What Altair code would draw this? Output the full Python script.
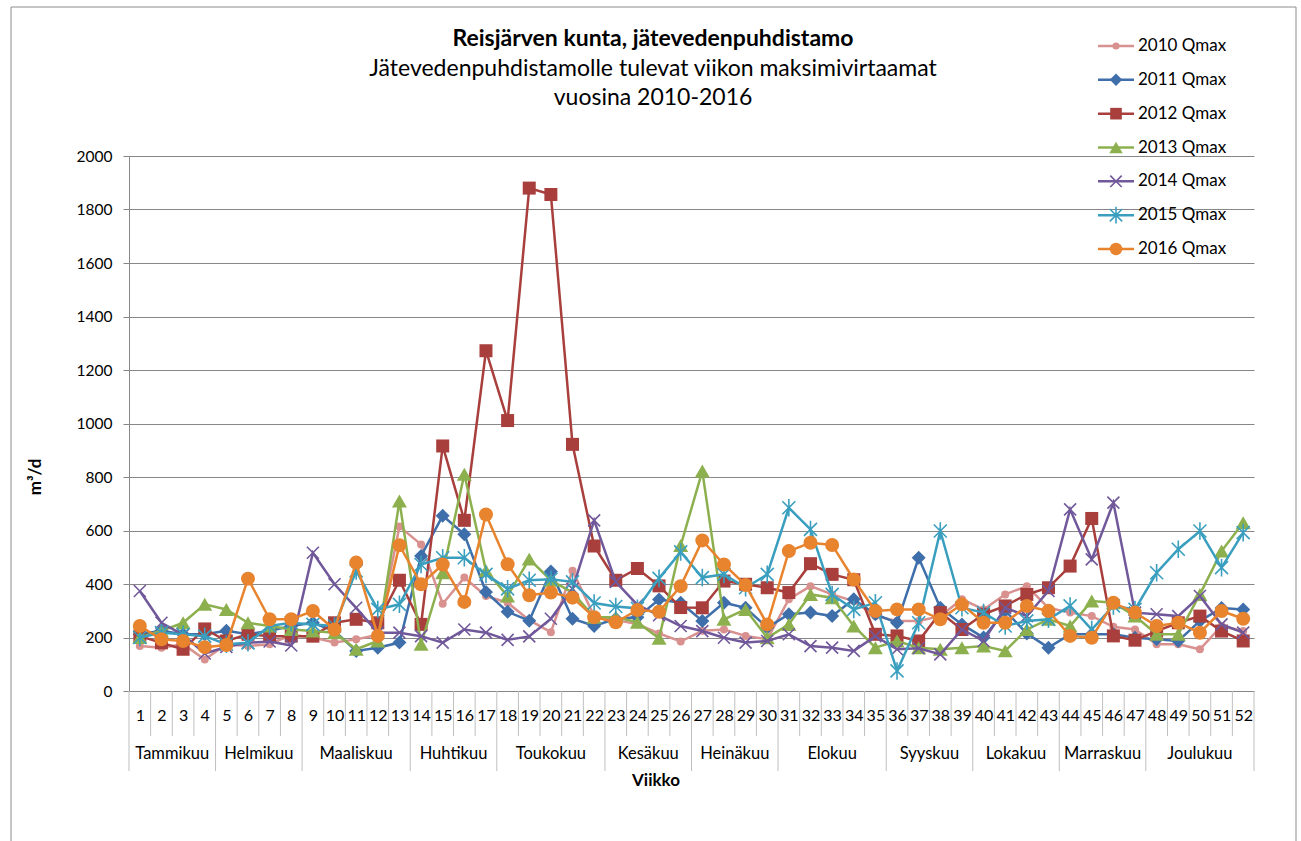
import altair as alt
import pandas as pd

FONT = "Lato"

weeks = list(range(1, 53))

series_names = ["2010 Qmax", "2011 Qmax", "2012 Qmax", "2013 Qmax",
                "2014 Qmax", "2015 Qmax", "2016 Qmax"]

q2010 = [168, 162, 175, 118, 175, 168, 175, 210, 200, 181, 193, 210, 615, 548, 326, 424,
         355, 330, 265, 220, 450, 280, 265, 250, 215, 185, 225, 230, 206, 193, 343, 392,
         361, 336, 280, 262, 262, 280, 343, 305, 361, 392, 311, 293, 280, 240, 230, 175,
         175, 156, 243, 224]
q2011 = [212, 225, 212, 212, 225, 212, 225, 243, 255, 224, 150, 162, 181, 505, 655, 586,
         370, 296, 263, 447, 270, 243, 270, 276, 342, 330, 262, 330, 311, 237, 287, 293,
         280, 343, 287, 255, 498, 311, 249, 200, 300, 215, 162, 212, 212, 212, 199, 193,
         187, 262, 310, 305]
q2012 = [205, 180, 156, 232, 187, 212, 205, 205, 205, 255, 268, 255, 414, 249, 916, 638,
         1272, 1011, 1880, 1856, 922, 542, 414, 458, 393, 312, 311, 411, 399, 386, 368, 476,
         436, 416, 212, 206, 187, 293, 230, 287, 318, 361, 386, 467, 645, 206, 190, 224,
         255, 280, 224, 187]
q2013 = [200, 225, 255, 324, 305, 255, 243, 230, 224, 218, 156, 187, 710, 175, 442, 810,
         450, 355, 493, 414, 368, 276, 276, 257, 197, 544, 822, 268, 305, 199, 249, 361,
         349, 243, 162, 187, 162, 156, 162, 168, 150, 230, 268, 243, 336, 330, 280, 212,
         212, 361, 523, 629]
q2014 = [374, 255, 210, 140, 165, 180, 185, 170, 517, 399, 311, 218, 218, 205, 181, 230,
         218, 191, 204, 270, 382, 638, 408, 322, 283, 243, 224, 199, 181, 187, 212, 168,
         162, 150, 205, 156, 160, 137, 230, 187, 311, 280, 374, 679, 492, 704, 293, 287,
         280, 355, 249, 218]
q2015 = [200, 218, 212, 205, 175, 180, 243, 255, 249, 243, 449, 305, 324, 473, 498, 498,
         436, 382, 414, 418, 408, 329, 316, 309, 421, 520, 424, 436, 386, 436, 685, 604,
         361, 305, 330, 75, 255, 598, 311, 293, 243, 262, 268, 318, 230, 318, 305, 442,
         530, 598, 461, 592]
q2016 = [243, 193, 187, 164, 172, 420, 268, 268, 299, 230, 480, 206, 545, 399, 473, 333,
         660, 474, 358, 368, 349, 276, 257, 303, 296, 392, 563, 473, 396, 249, 523, 554,
         546, 417, 299, 305, 305, 268, 324, 255, 255, 318, 299, 206, 199, 330, 293, 243,
         255, 218, 299, 270]

series_values = [q2010, q2011, q2012, q2013, q2014, q2015, q2016]

month_names = ["Tammikuu", "Helmikuu", "Maaliskuu", "Huhtikuu", "Toukokuu", "Kesäkuu",
               "Heinäkuu", "Elokuu", "Syyskuu", "Lokakuu", "Marraskuu", "Joulukuu"]
month_first_week = [1, 5, 9, 14, 18, 23, 27, 31, 36, 40, 44, 48]
month_last_week = [4, 8, 13, 17, 22, 26, 30, 35, 39, 43, 47, 52]

title_main = "Reisjärven kunta, jätevedenpuhdistamo"
title_sub1 = "Jätevedenpuhdistamolle tulevat viikon maksimivirtaamat"
title_sub2 = "vuosina 2010-2016"

# styles
colors = ["#D9918F", "#3F6FAA", "#A83F3C", "#8DB04F", "#70589A", "#3A9FBF", "#E8832E"]
X_PATH = "M-1,-1L1,1M-1,1L1,-1"
AST_PATH = "M-1,-1L1,1M-1,1L1,-1M0,-1.35L0,1.35"
shapes = ["circle", "diamond", "square", "triangle-up", X_PATH, AST_PATH, "circle"]
sizes = [64, 196, 169, 225, 144, 169, 196]
filled = [True, True, True, True, False, False, True]

W, H = 1125, 535

rows = []
for name, vals in zip(series_names, series_values):
    for w, v in zip(weeks, vals):
        rows.append({"series": name, "week": w, "value": v})
df = pd.DataFrame(rows)

xscale = alt.Scale(domain=[0.5, 52.5], nice=False, zero=False)
xaxis = alt.Axis(values=weeks, format="d", grid=False, ticks=False, tickSize=0,
                 domainColor="#878787", domainWidth=1, labelFontSize=16, labelFont=FONT,
                 labelColor="black", labelPadding=16, labelOverlap=False, labelFlush=False,
                 title=None)
yscale = alt.Scale(domain=[0, 2000], nice=False)
yaxis = alt.Axis(values=list(range(0, 2001, 200)), format="d", grid=True,
                 gridColor="#878787", gridWidth=1, domainColor="#878787",
                 tickColor="#878787", tickSize=6, labelFontSize=15.5, labelFont=FONT,
                 labelColor="black", labelPadding=11, title=None)

X = alt.X("week:Q", scale=xscale, axis=xaxis)
Y = alt.Y("value:Q", scale=yscale, axis=yaxis)

# axis separators
week_bounds = [w + 0.5 for w in weeks[:-1] if w not in month_last_week]
month_bounds = [f - 0.5 for f in month_first_week] + [month_last_week[-1] + 0.5]
sep_week = alt.Chart(pd.DataFrame({"pos": week_bounds})).mark_rule(
    color="#BFBFBF", strokeWidth=1).encode(
    x=alt.X("pos:Q", scale=xscale, axis=xaxis), y=alt.value(H), y2=alt.value(H + 45))
sep_month = alt.Chart(pd.DataFrame({"pos": month_bounds})).mark_rule(
    color="#BFBFBF", strokeWidth=1).encode(
    x=alt.X("pos:Q", scale=xscale, axis=xaxis), y=alt.value(H), y2=alt.value(H + 80))

mdf = pd.DataFrame({"month": month_names,
                    "mid": [(a + b) / 2 for a, b in zip(month_first_week, month_last_week)]})
month_text = alt.Chart(mdf).mark_text(font=FONT, fontSize=16.5, color="black",
                                      baseline="middle").encode(
    x=alt.X("mid:Q", scale=xscale, axis=xaxis), y=alt.value(H + 63), text="month:N")

series_layers = []
for name, col, shp, sz, fl in zip(series_names, colors, shapes, sizes, filled):
    base = alt.Chart(df).transform_filter(alt.datum.series == name)
    series_layers.append(base.mark_line(color=col, strokeWidth=2.5).encode(x=X, y=Y))
    if fl:
        pts = base.mark_point(shape=shp, size=sz, filled=True, color=col, opacity=1)
    else:
        pts = base.mark_point(shape=shp, size=sz, filled=False, color=col, opacity=1,
                              strokeWidth=1.6)
    series_layers.append(pts.encode(x=X, y=Y))

plot = alt.layer(sep_week, sep_month, month_text, *series_layers)

# legend (items centred from -110 to 93 px relative to the plot top)
legdf = pd.DataFrame({"series": series_names, "idx": list(range(len(series_names)))})
leg_scale = alt.Scale(domain=[0, len(series_names) - 1], range=[-110, 93],
                      nice=False, zero=False)
LY = alt.Y("idx:Q", scale=leg_scale, axis=None)
leg_layers = []
for name, col, shp, sz, fl in zip(series_names, colors, shapes, sizes, filled):
    b = alt.Chart(legdf).transform_filter(alt.datum.series == name)
    leg_layers.append(b.mark_rule(color=col, strokeWidth=2.5).encode(
        y=LY, x=alt.value(969), x2=alt.value(1005)))
    if fl:
        p = b.mark_point(shape=shp, size=sz * 0.8, filled=True, color=col, opacity=1)
    else:
        p = b.mark_point(shape=shp, size=sz * 0.9, filled=False, color=col, opacity=1,
                         strokeWidth=1.6)
    leg_layers.append(p.encode(y=LY, x=alt.value(987)))
leg_layers.append(alt.Chart(legdf).mark_text(font=FONT, fontSize=17, color="black",
                                             align="left", baseline="middle").encode(
    y=LY, x=alt.value(1009), text="series:N"))
legend = alt.layer(*leg_layers)

one = pd.DataFrame({"k": [0]})
border = alt.Chart(one).mark_rect(fill="white", fillOpacity=0, stroke="#8C8C8C",
                                  strokeWidth=1).encode(
    x=alt.value(-118), x2=alt.value(1167), y=alt.value(-149), y2=alt.value(700))

t1 = alt.Chart(pd.DataFrame({"t": [title_main]})).mark_text(
    font=FONT, fontSize=23, fontWeight="bold", color="black", align="center",
    baseline="middle").encode(x=alt.value(524), y=alt.value(-117), text="t:N")
t2 = alt.Chart(pd.DataFrame({"t": [title_sub1]})).mark_text(
    font=FONT, fontSize=23, color="black", align="center",
    baseline="middle").encode(x=alt.value(524), y=alt.value(-87), text="t:N")
t3 = alt.Chart(pd.DataFrame({"t": [title_sub2]})).mark_text(
    font=FONT, fontSize=23, color="black", align="center",
    baseline="middle").encode(x=alt.value(524), y=alt.value(-58), text="t:N")
ytitle = alt.Chart(pd.DataFrame({"t": ["m³/d"]})).mark_text(
    font=FONT, fontSize=17, fontWeight="bold", color="black", align="center",
    baseline="middle", angle=270).encode(x=alt.value(-93), y=alt.value(321), text="t:N")
xtitle = alt.Chart(pd.DataFrame({"t": ["Viikko"]})).mark_text(
    font=FONT, fontSize=17, fontWeight="bold", color="black", align="center",
    baseline="middle").encode(x=alt.value(527), y=alt.value(H + 90), text="t:N")

chart = alt.layer(border, plot, legend, t1, t2, t3, ytitle, xtitle).resolve_scale(
    y="independent"
).properties(
    width=W, height=H, padding={"left": 10, "top": 6, "right": 0, "bottom": 0},
    background="white"
).configure_view(stroke=None)

chart.save("out.html", embed_options={"renderer": "svg", "actions": False})
